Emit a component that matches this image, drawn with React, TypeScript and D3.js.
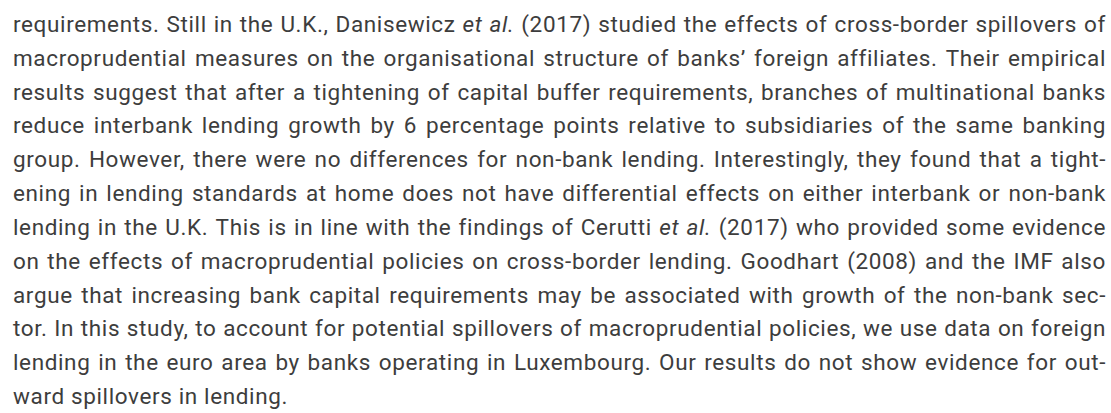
import React, { useEffect, useRef } from 'react';
import * as d3 from 'd3';

// Paragraph lines as set in the reference (justified, last line ragged)
// *word* marks italic words
const lines = [
  'requirements. Still in the U.K., Danisewicz *et* *al.* (2017) studied the effects of cross-border spillovers of',
  'macroprudential measures on the organisational structure of banks’ foreign affiliates. Their empirical',
  'results suggest that after a tightening of capital buffer requirements, branches of multinational banks',
  'reduce interbank lending growth by 6 percentage points relative to subsidiaries of the same banking',
  'group. However, there were no differences for non-bank lending. Interestingly, they found that a tight-',
  'ening in lending standards at home does not have differential effects on either interbank or non-bank',
  'lending in the U.K. This is in line with the findings of Cerutti *et* *al.* (2017) who provided some evidence',
  'on the effects of macroprudential policies on cross-border lending. Goodhart (2008) and the IMF also',
  'argue that increasing bank capital requirements may be associated with growth of the non-bank sec-',
  'tor. In this study, to account for potential spillovers of macroprudential policies, we use data on foreign',
  'lending in the euro area by banks operating in Luxembourg. Our results do not show evidence for out-',
  'ward spillovers in lending.',
];

const width = 1111;
const height = 413;
const margin = { left: 13, right: 5 };
const textColor = '#3d3d3d';
const fontSize = 22.5;

const App = () => {
  const svgRef = useRef<SVGSVGElement>(null);

  useEffect(() => {
    const svg = d3.select(svgRef.current).attr('width', width).attr('height', height);
    svg.selectAll('*').remove();

    // baselines of first and last line
    const y = d3.scaleLinear().domain([0, lines.length - 1]).range([32, 404]);
    const x0 = margin.left;
    const x1 = width - margin.right;
    const avail = x1 - x0;

    const tokens = lines.map((l) =>
      l.split(' ').map((t) => {
        const italic = t.startsWith('*') && t.endsWith('*');
        return { text: italic ? t.slice(1, -1) : t, italic };
      })
    );

    const g = svg
      .append('g')
      .style('font-family', 'Roboto, "Noto Sans", sans-serif')
      .style('font-size', `${fontSize}px`)
      .style('fill', textColor);

    const draw = (ls: number) => {
      g.selectAll('*').remove();
      g.style('letter-spacing', `${ls}px`);

      // width of a normal space
      const probe = g.append('text').text('a a');
      const probe2 = g.append('text').text('aa');
      const space =
        (probe.node() as SVGTextElement).getComputedTextLength() -
        (probe2.node() as SVGTextElement).getComputedTextLength();
      probe.remove();
      probe2.remove();

      // letter-spacing that still lets every justified line fit
      let room = Infinity;
      tokens.forEach((words, i) => {
        const row = g.append('g');
        const nodes = words.map((w) =>
          row
            .append('text')
            .attr('y', y(i))
            .style('font-style', w.italic ? 'italic' : 'normal')
            .text(w.text)
        );
        const widths = nodes.map((n) => (n.node() as SVGTextElement).getComputedTextLength());
        const total = d3.sum(widths);
        const last = i === tokens.length - 1;
        const natural = total + space * (words.length - 1);
        const chars = d3.sum(words, (w) => w.text.length) + words.length - 1;
        if (!last) room = Math.min(room, (avail - natural) / chars);
        const gap = last ? space : (avail - total) / (words.length - 1);
        let cx = x0;
        nodes.forEach((n, k) => {
          n.attr('x', cx);
          cx += widths[k] + gap;
        });
      });
      return room;
    };

    const room = draw(0);
    draw(Math.max(0, room * 0.9));
  }, []);

  return (
    <svg
      ref={svgRef}
      style={{ display: 'block', position: 'absolute', left: 0, top: 0 }}
    />
  );
};

export default App;
